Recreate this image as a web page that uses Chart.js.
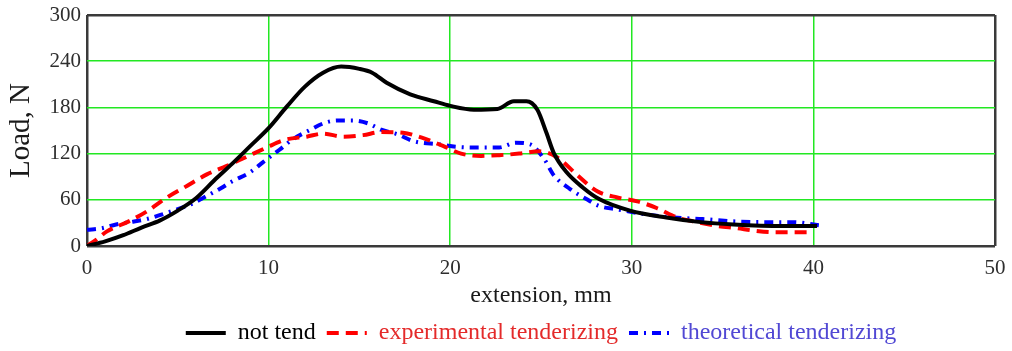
<!DOCTYPE html>
<html>
<head>
<meta charset="utf-8">
<script src="https://cdn.jsdelivr.net/npm/chart.js@4/dist/chart.umd.min.js"></script>
<style>
  html, body { margin: 0; padding: 0; background: #fff; overflow: hidden; }
  canvas { display: block; }
</style>
</head>
<body>
<canvas id="loadChart" width="1012" height="351"></canvas>
<script>
// extension (mm) / load (N)
const notTendX = [0, 1, 2, 3, 4, 5, 6, 7, 8, 9, 10, 11, 12, 13, 14, 15, 15.7, 16.5, 17.8, 19.1, 20, 21.3, 22.6, 23.5, 24.2, 24.8, 25.3, 25.7, 26.4, 27.3, 28.2, 29.9, 31.9, 33.8, 35.6, 38.3, 40.2];
const notTendY = [0, 6, 14, 24, 33, 46, 62, 85, 107, 130, 153, 181, 207, 225, 233, 230, 225, 212, 197, 188, 182, 177, 178, 188, 188, 177, 147, 121, 96, 76, 61, 46, 37, 31, 28, 26, 26];

const expX = [0, 0.5, 1.1, 2.3, 3.3, 4.4, 5.5, 6.6, 7.7, 8.8, 9.9, 10.9, 12.1, 13.0, 14.1, 15.2, 16.2, 17.4, 18.4, 19.6, 20.6, 21.7, 22.7, 23.8, 24.9, 25.9, 27.0, 28.1, 29.2, 30.3, 31.4, 32.5, 33.6, 34.7, 35.8, 36.7, 37.8, 38.9, 40];
const expY = [0, 8, 19, 32, 45, 63, 78, 93, 104, 116, 128, 138, 142, 146, 142, 144, 148, 147, 141, 130, 120, 117, 118, 120, 123, 115, 92, 71, 63, 58, 49, 37, 31, 26, 23, 20, 18, 18, 18];

const theoX = [0, 0.8, 1.6, 2.4, 3.3, 4.0, 5.0, 5.7, 6.6, 7.3, 8.0, 9.0, 9.7, 10.6, 11.3, 12.3, 13.1, 13.8, 14.6, 15.5, 16.2, 17.1, 18.0, 19.4, 20.3, 21.2, 22.0, 22.7, 23.6, 24.4, 25.2, 25.7, 26.6, 27.5, 28.2, 29.1, 30.8, 32.3, 33.9, 35.6, 37.4, 38.9, 40.3];
const theoY = [21, 23, 28, 31, 35, 40, 48, 54, 65, 74, 84, 96, 109, 125, 138, 151, 160, 163, 163, 159, 151, 145, 136, 132, 129, 128, 128, 128, 134, 132, 112, 92, 74, 61, 52, 48, 41, 37, 35, 32, 31, 31, 27];

const seriesNames = ['not tend', 'experimental tenderizing', 'theoretical tenderizing'];
const xTicks = [0, 10, 20, 30, 40, 50];
const yTicks = [0, 60, 120, 180, 240, 300];

const toPoints = (xs, ys) => xs.map((x, i) => ({ x: x, y: ys[i] }));

const serif = "'Liberation Serif', 'DejaVu Serif', serif";
const gridGreen = '#22e822';
const frameColor = '#3a3a3a';

const ctx = document.getElementById('loadChart').getContext('2d');
const chart = new Chart(ctx, {
    type: 'line',
    data: {
        datasets: [
            {
                label: seriesNames[0],
                data: toPoints(notTendX, notTendY),
                borderColor: '#000000',
                borderWidth: 4,
                textColor: '#000000'
            },
            {
                label: seriesNames[1],
                data: toPoints(expX, expY),
                borderColor: '#ff0000',
                borderWidth: 4,
                borderDash: [12, 7],
                textColor: '#e42a2a'
            },
            {
                label: seriesNames[2],
                data: toPoints(theoX, theoY),
                borderColor: '#0000ff',
                borderWidth: 4,
                borderDash: [9, 6, 2, 6],
                textColor: '#5148d4'
            }
        ]
    },
    options: {
        responsive: false,
        animation: false,
        devicePixelRatio: 1,
        layout: { padding: { top: 15, right: 17, left: 0, bottom: -4 } },
        elements: {
            point: { radius: 0 },
            line: { tension: 0, cubicInterpolationMode: 'monotone', fill: false }
        },
        plugins: {
            tooltip: { enabled: false },
            legend: {
                position: 'bottom',
                fullSize: false,
                labels: {
                    font: { family: serif, size: 24 },
                    usePointStyle: true,
                    pointStyleWidth: 40,
                    padding: 11,
                    generateLabels(c) {
                        return c.data.datasets.map((ds, i) => ({
                            text: ds.label,
                            fontColor: ds.textColor,
                            strokeStyle: ds.borderColor,
                            fillStyle: ds.borderColor,
                            lineWidth: ds.borderWidth,
                            lineDash: ds.borderDash || [],
                            pointStyle: 'line',
                            datasetIndex: i
                        }));
                    }
                }
            }
        },
        scales: {
            x: {
                type: 'linear',
                min: 0,
                max: 50,
                afterBuildTicks: s => { s.ticks = xTicks.map(v => ({ value: v })); },
                afterFit: s => { s.height = 64; s.paddingRight = 0; },
                grid: {
                    color: c => (c.tick && (c.tick.value === 0 || c.tick.value === 50)) ? frameColor : gridGreen,
                    lineWidth: c => (c.tick && (c.tick.value === 0 || c.tick.value === 50)) ? 2.5 : 1.5,
                    drawTicks: false
                },
                border: { display: false },
                ticks: {
                    color: '#2e2e2e',
                    padding: 10,
                    maxRotation: 0,
                    font: { family: serif, size: 21 }
                },
                title: {
                    display: true,
                    text: 'extension, mm',
                    color: '#1a1a1a',
                    font: { family: serif, size: 24 },
                    padding: { top: 0, bottom: 0 }
                }
            },
            y: {
                min: 0,
                max: 300,
                afterBuildTicks: s => { s.ticks = yTicks.map(v => ({ value: v })); },
                afterFit: s => { s.width = 87; s.paddingTop = 0; },
                grid: {
                    color: c => (c.tick && (c.tick.value === 0 || c.tick.value === 300)) ? frameColor : gridGreen,
                    lineWidth: c => (c.tick && (c.tick.value === 0 || c.tick.value === 300)) ? 2.5 : 1.5,
                    drawTicks: false
                },
                border: { display: false },
                ticks: {
                    color: '#2e2e2e',
                    padding: 6,
                    font: { family: serif, size: 21 }
                },
                title: {
                    display: true,
                    text: 'Load, N',
                    color: '#1a1a1a',
                    font: { family: serif, size: 29 },
                    padding: { top: 4, bottom: 0 }
                }
            }
        }
    }
});
</script>
</body>
</html>
